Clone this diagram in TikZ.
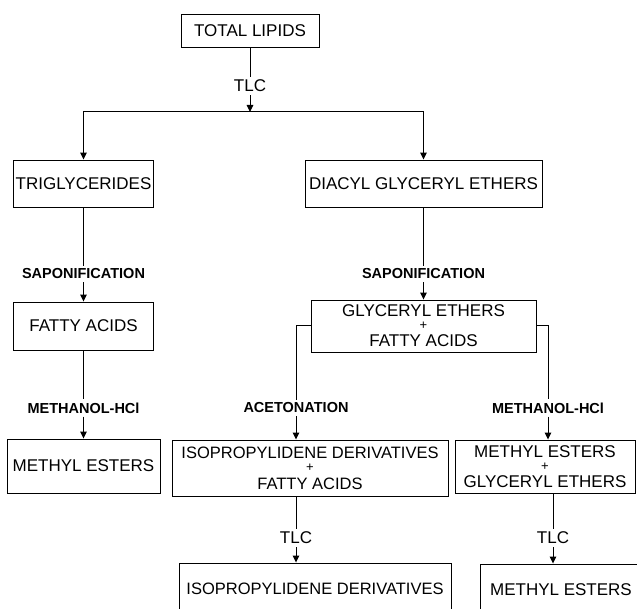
\documentclass[tikz,border=0pt]{standalone}
\usepackage{fontspec}
\setmainfont{Liberation Sans}
\usetikzlibrary{arrows.meta,positioning}
\newcommand{\smallplus}{{\fontsize{13}{13}\selectfont\raisebox{2pt}{+}}}

\begin{document}
\begin{tikzpicture}[
  x=1pt, y=-1pt, on grid,
  box/.style={draw, line width=0.9pt, align=center, inner sep=2pt,
              font=\fontsize{17}{15}\selectfont},
  wide/.style={font=\fontsize{16.5}{15.5}\selectfont},
  lbl/.style={font=\fontsize{14.5}{16}\selectfont\bfseries, inner sep=3pt},
  tlc/.style={font=\fontsize{17}{19}\selectfont, inner sep=3pt},
  ln/.style={line width=1pt},
  ar/.style={ln, -{Triangle[length=7pt,width=6.5pt]}}]
\clip (0,0) rectangle (637,609);
\node[box, minimum width=138pt, minimum height=33pt] (total) at (250,30.5) {TOTAL LIPIDS};
\node[tlc, below=55.5pt of total] (tlc1) {TLC};
\coordinate[below=26pt of tlc1] (jn);
\node[box, minimum width=139pt, minimum height=47pt, below left=97.5pt and 166.5pt of tlc1] (trig) {TRIGLYCERIDES};
\node[box, minimum width=237pt, minimum height=47pt, below right=97.5pt and 173.5pt of tlc1] (diacyl) {DIACYL GLYCERYL ETHERS};
\node[lbl, below=90.5pt of trig] (sap1) {SAPONIFICATION};
\node[box, minimum width=140pt, minimum height=48pt, below=52pt of sap1] (fatty) {FATTY ACIDS};
\node[lbl, below=82pt of fatty] (meth1) {METHANOL-HCl};
\node[box, minimum width=153pt, minimum height=54pt, below=58pt of meth1] (mest) {METHYL ESTERS};
\node[lbl, below=90.5pt of diacyl] (sap2) {SAPONIFICATION};
\node[box, minimum width=225pt, minimum height=52pt, below=52pt of sap2] (gly) {GLYCERYL ETHERS\\\smallplus\\FATTY ACIDS};
\node[lbl, below left=82pt and 127.5pt of gly] (aceton) {ACETONATION};
\node[lbl, below right=82pt and 124.5pt of gly] (meth2) {METHANOL-HCl};
\node[box, wide, minimum width=276pt, minimum height=56pt, below right=60pt and 14pt of aceton] (isoA) {ISOPROPYLIDENE DERIVATIVES\\\smallplus\\FATTY ACIDS};
\node[box, minimum width=180pt, minimum height=53pt, below left=58.5pt and 3pt of meth2] (mg) {METHYL ESTERS\\\smallplus\\GLYCERYL ETHERS};
\node[tlc, below left=70pt and 14pt of isoA] (tlc2) {TLC};
\node[box, wide, minimum width=272pt, minimum height=52pt, below right=51pt and 19pt of tlc2] (isoB) {ISOPROPYLIDENE DERIVATIVES};
\node[tlc, below right=71.5pt and 8pt of mg] (tlc3) {TLC};
\node[box, minimum width=162pt, minimum height=52pt, below right=52pt and 8pt of tlc3] (mes2) {METHYL ESTERS};
\draw[ln] (total) -- (tlc1);
\draw[ar] (tlc1) -- (jn);
\draw[ar] (jn) -| (trig);
\draw[ar] (jn) -| (diacyl);
\draw[ln] (trig) -- (sap1); \draw[ar] (sap1) -- (fatty);
\draw[ln] (fatty) -- (meth1); \draw[ar] (meth1) -- (mest);
\draw[ln] (diacyl) -- (sap2); \draw[ar] (sap2) -- (gly);
\draw[ln] (gly) -| (aceton); \draw[ar] (aceton) -- (aceton |- isoA.north);
\draw[ln] (gly) -| (meth2); \draw[ar] (meth2) -- (meth2 |- mg.north);
\draw[ln] (tlc2 |- isoA.south) -- (tlc2); \draw[ar] (tlc2) -- (tlc2 |- isoB.north);
\draw[ln] (tlc3 |- mg.south) -- (tlc3); \draw[ar] (tlc3) -- (tlc3 |- mes2.north);
\end{tikzpicture}
\end{document}
